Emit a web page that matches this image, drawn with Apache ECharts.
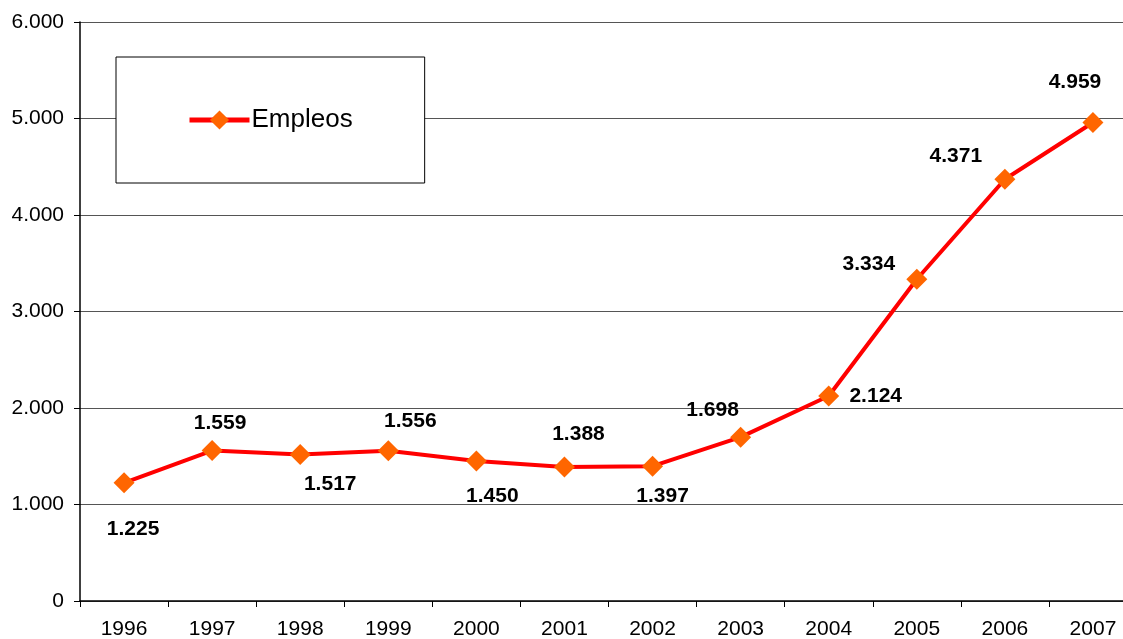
<!DOCTYPE html>
<html>
<head>
<meta charset="utf-8">
<script src="https://cdn.jsdelivr.net/npm/echarts@6/dist/echarts.min.js"></script>
<style>
html,body{margin:0;padding:0;background:#fff;overflow:hidden;}
#c{width:1123px;height:639px;}
</style>
</head>
<body>
<div id="c"></div>
<script>
const categories = ['1996','1997','1998','1999','2000','2001','2002','2003','2004','2005','2006','2007'];
const empleos = [1225,1559,1517,1556,1450,1388,1397,1698,2124,3334,4371,4959];
const seriesName = 'Empleos';

const labelOffsets = [[9,46],[8,-27],[30,30],[22,-30],[16,35],[14,-33],[10,30],[-28,-27],[47,0],[-48,-15],[-49,-23],[-18,-40]];

function fmt(v){
  return String(Math.round(v)).replace(/\B(?=(\d{3})+(?!\d))/g,'.');
}

const FONT = 'Liberation Sans, Arial, sans-serif';
const chart = echarts.init(document.getElementById('c'));
chart.setOption({
  animation:false,
  backgroundColor:'#fff',
  textStyle:{fontFamily:FONT},
  grid:{left:80,width:1057,top:22,bottom:38,containLabel:false,outerBoundsMode:'none'},
  legend:{
    left:116, top:57,
    padding:[50,72,50,71],
    itemWidth:60, itemHeight:24, itemGap:0,
    borderColor:'#000', borderWidth:1,
    backgroundColor:'#fff',
    textStyle:{fontSize:26,color:'#000',fontFamily:FONT,padding:[0,0,0,-3]},
    data:[{name:seriesName,lineStyle:{width:5,color:'#FF0000'}}]
  },
  xAxis:{
    type:'category',
    data:categories,
    boundaryGap:true,
    axisLine:{lineStyle:{color:'#000',width:1.5}},
    axisTick:{show:true,length:6,lineStyle:{color:'#000'}},
    axisLabel:{color:'#000',fontSize:21,margin:18}
  },
  yAxis:{
    type:'value',
    min:0,max:6000,interval:1000,
    axisLine:{show:true,lineStyle:{color:'#000',width:1.5}},
    axisTick:{show:true,length:6,lineStyle:{color:'#000'}},
    axisLabel:{color:'#000',fontSize:21,margin:16,formatter:fmt},
    splitLine:{lineStyle:{color:'#555',width:1}}
  },
  series:[{
    name:seriesName,
    type:'line',
    data:empleos.map((v,i)=>({
      value:v,
      label:{position:'inside',offset:labelOffsets[i]}
    })),
    lineStyle:{color:'#FF0000',width:4},
    itemStyle:{color:'#FF6600'},
    symbol:'diamond',
    symbolSize:21,
    label:{
      show:true,
      formatter:p=>fmt(p.value),
      fontSize:21,fontWeight:'bold',color:'#000',
      fontFamily:FONT
    }
  }]
});
</script>
</body>
</html>
